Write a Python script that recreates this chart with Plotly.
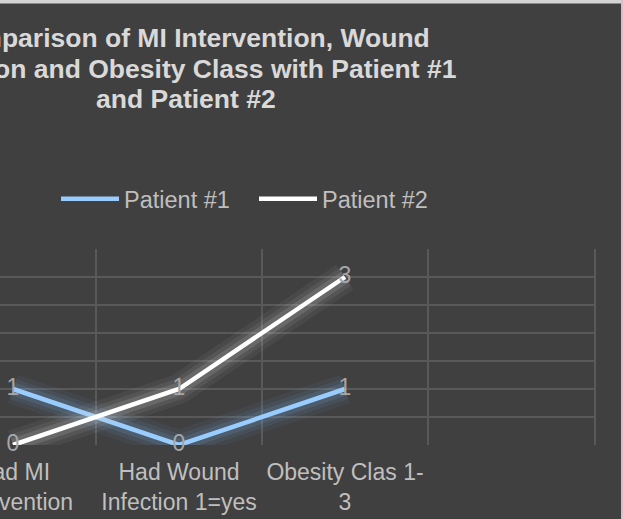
import plotly.graph_objects as go

# ---- data ----
categories = ["Had MI<br>Intervention", "Had Wound<br>Infection 1=yes", "Obesity Clas 1-<br>3"]
patient1 = [1, 0, 1]
patient2 = [0, 1, 3]
series_names = ["Patient #1", "Patient #2"]
title_lines = ["Comparison of MI Intervention, Wound",
               "Infection and Obesity Class with Patient #1",
               "and Patient #2"]

BG = "#404040"
FONT = "Liberation Sans, Arial, sans-serif"
W, H = 623, 519
PLOT_L, PLOT_R, PLOT_T, PLOT_B = 0, 594, 249, 445
CAT_W = 166.0
FIRST_CENTER = 13.0
GRID = "#595959"

colors = ["#99ccff", "#ffffff"]
glow_colors = ["rgba(120,175,230,{a})", "rgba(215,215,215,{a})"]

x_idx = list(range(len(categories)))
fig = go.Figure()

all_vals = [patient1, patient2]
# glow + main lines
for name, vals, col, gcol in zip(series_names, all_vals, colors, glow_colors):
    for w, a in [(30, 0.06), (21, 0.09), (13, 0.15)]:
        fig.add_trace(go.Scatter(x=x_idx, y=vals, mode="lines",
                                 line=dict(color=gcol.format(a=a), width=w),
                                 hoverinfo="skip", showlegend=False, cliponaxis=False))
    fig.add_trace(go.Scatter(x=x_idx, y=vals, mode="lines", name=name,
                             line=dict(color=col, width=4.5), cliponaxis=False))

# data labels
for vals in all_vals:
    fig.add_trace(go.Scatter(x=x_idx, y=vals, mode="text",
                             text=[str(v) for v in vals],
                             textposition="middle center",
                             textfont=dict(family=FONT, size=23, color="#a6a6a6"),
                             hoverinfo="skip", showlegend=False, cliponaxis=False))

plot_h = PLOT_B - PLOT_T
def py(ypx):
    return (PLOT_B - ypx) / plot_h

def px(xpx):
    return (xpx - PLOT_L) / (PLOT_R - PLOT_L)

annotations = []
for line, ypx in zip(title_lines, [38, 68.5, 99]):
    annotations.append(dict(text="<b>" + line + "</b>", x=px(186), y=py(ypx),
                            xref="paper", yref="paper",
                            xanchor="center", yanchor="middle", showarrow=False,
                            font=dict(family=FONT, size=26.5, color="#d9d9d9")))

shapes = [
    # fade of lower gridlines
    dict(type="rect", xref="paper", yref="y", x0=0, x1=1.01, y0=-0.1, y1=0.75,
         fillcolor=BG, opacity=0.75, line_width=0, layer="between"),
    dict(type="rect", xref="paper", yref="y", x0=0, x1=1.01, y0=0.75, y1=1.25,
         fillcolor=BG, opacity=0.45, line_width=0, layer="between"),
    dict(type="rect", xref="paper", yref="y", x0=0, x1=1.01, y0=1.25, y1=1.75,
         fillcolor=BG, opacity=0.2, line_width=0, layer="between"),
    # outer frame strips (top and right)
    dict(type="rect", xref="paper", yref="paper", x0=px(-5), x1=px(630), y0=py(3.5), y1=py(-5),
         fillcolor="#d4d4d4", line_width=0, layer="above"),
    dict(type="rect", xref="paper", yref="paper", x0=px(621), x1=px(630), y0=py(530), y1=py(-5),
         fillcolor="#c8c8c8", line_width=0, layer="above"),
]

x_lo = (PLOT_L - FIRST_CENTER) / CAT_W
x_hi = (PLOT_R - FIRST_CENTER) / CAT_W

fig.update_layout(
    width=W, height=H,
    autosize=False,
    margin=dict(l=PLOT_L, r=W - PLOT_R, t=PLOT_T, b=H - PLOT_B, pad=0, autoexpand=False),
    paper_bgcolor=BG, plot_bgcolor=BG,
    font=dict(family=FONT, color="#bfbfbf", size=23),
    showlegend=True,
    legend=dict(orientation="h", x=px(254), y=py(199), xanchor="center", yanchor="middle",
                font=dict(family=FONT, size=23.5, color="#bfbfbf"),
                bgcolor="rgba(0,0,0,0)", itemwidth=58, tracegroupgap=0,
                entrywidth=125, entrywidthmode="pixels"),
    xaxis=dict(type="linear", range=[x_lo, x_hi], tickvals=x_idx, ticktext=categories,
               showgrid=False, zeroline=False, showline=False, ticks="",
               tickangle=0, automargin=False,
               ticklabeloverflow="allow", ticklabelstandoff=11,
               tickfont=dict(family=FONT, size=23, color="#bfbfbf"),
               minor=dict(tickvals=[0.5, 1.5, 2.5], showgrid=True,
                          gridcolor=GRID, gridwidth=1.5, ticks=""),
               fixedrange=True),
    yaxis=dict(range=[0, 3.5], dtick=0.5, showgrid=True, gridcolor=GRID, gridwidth=1.5,
               showticklabels=False, zeroline=False, showline=True, linecolor=GRID,
               linewidth=1.5, side="right", ticks="", automargin=False, fixedrange=True),
    annotations=annotations,
    shapes=shapes,
)

fig.write_html("out.html", config={"displayModeBar": False, "responsive": False},
               post_script="document.body.style.margin='0';document.body.style.padding='0';")
